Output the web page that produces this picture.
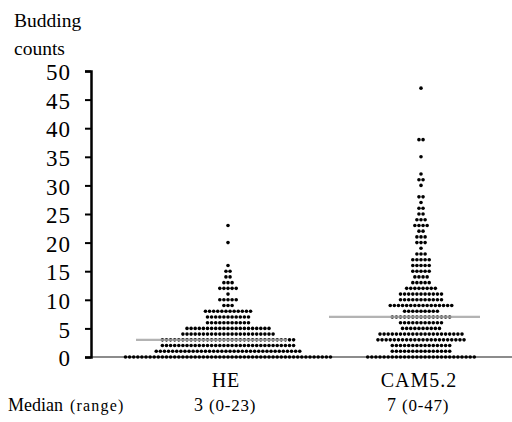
<!DOCTYPE html>
<html lang="en">
  <head>
    <meta charset="UTF-8" />
    <title>Budding counts</title>
    <script src="https://d3js.org/d3.v7.min.js"></script>
    <style>
      body {
        margin: 0;
        background: #ffffff;
      }
      svg text {
        font-family: 'Liberation Serif', 'Times New Roman', serif;
        fill: #000;
      }
    </style>
  </head>
  <body>
    <div id="chart"></div>
    <script>
      // groups and summary text
      const groups = ['HE', 'CAM5.2'];
      const medians = [3, 7];
      const ranges = ['(0-23)', '(0-47)'];
      const yTicks = [0, 5, 10, 15, 20, 25, 30, 35, 40, 45, 50];

      // number of cases at each budding count
      const heValues = [0, 1, 2, 3, 4, 5, 6, 7, 8, 9, 10, 11, 12, 13, 14, 15, 16, 20, 23];
      const heCounts = [51, 36, 33, 33, 23, 21, 11, 11, 12, 3, 5, 1, 5, 3, 2, 2, 1, 1, 1];
      const camValues = [0, 1, 2, 3, 4, 5, 6, 7, 8, 9, 10, 11, 12, 13, 14, 15, 16, 17, 18, 19,
        20, 21, 22, 23, 24, 25, 26, 27, 28, 30, 31, 32, 35, 38, 47];
      const camCounts = [27, 15, 15, 22, 21, 10, 11, 15, 9, 16, 11, 11, 8, 5, 4, 5, 5, 5, 3, 1,
        3, 3, 2, 4, 3, 2, 2, 1, 2, 1, 2, 1, 1, 2, 1];

      const w = 512,
        h = 422;
      const m = { left: 91, right: 0, top: 71, bottom: 65 };
      const pitch = 4.1;

      const svg = d3
        .select('#chart')
        .append('svg')
        .attr('width', w)
        .attr('height', h);

      const y = d3
        .scaleLinear()
        .domain([0, 50])
        .range([h - m.bottom, m.top]);

      const x = d3
        .scalePoint()
        .domain(groups)
        .range([228, 421]);

      // expand counts into dots
      function rows(values, counts, group) {
        const pts = [];
        values.forEach((v, i) => {
          const n = counts[i];
          for (let k = 0; k < n; k++) {
            pts.push({ group, v, off: (k - (n - 1) / 2) * pitch });
          }
        });
        return pts;
      }
      const dots = rows(heValues, heCounts, 'HE').concat(
        rows(camValues, camCounts, 'CAM5.2'),
      );

      // x axis line
      svg
        .append('line')
        .attr('x1', m.left)
        .attr('x2', w)
        .attr('y1', y(0))
        .attr('y2', y(0))
        .attr('stroke', '#8c8c8c')
        .attr('stroke-width', 2);

      svg
        .append('g')
        .selectAll('circle')
        .data(dots)
        .join('circle')
        .attr('cx', (d) => x(d.group) + d.off)
        .attr('cy', (d) => y(d.v))
        .attr('r', 1.8)
        .attr('fill', '#000');

      // median lines
      svg
        .append('g')
        .selectAll('line')
        .data(groups)
        .join('line')
        .attr('x1', (d) => x(d) - 92)
        .attr('x2', (d) => x(d) + 59)
        .attr('y1', (d, i) => y(medians[i]))
        .attr('y2', (d, i) => y(medians[i]))
        .attr('stroke', '#a6a6a6')
        .attr('stroke-opacity', 0.85)
        .attr('stroke-width', 2.2);

      // y axis
      const yAxis = svg
        .append('g')
        .attr('transform', `translate(${m.left},0)`)
        .call(
          d3
            .axisLeft(y)
            .tickValues(yTicks)
            .tickSize(6)
            .tickPadding(14),
        );
      yAxis.select('.domain').attr('stroke', '#000').attr('stroke-width', 2.5);
      yAxis.selectAll('.tick line').attr('stroke', '#000').attr('stroke-width', 2);
      yAxis
        .selectAll('.tick text')
        .attr('dy', '0.38em')
        .style('font-size', '23px')
        .style('letter-spacing', '1px');

      // y title
      svg
        .append('text')
        .attr('x', 14)
        .attr('y', 27)
        .style('font-size', '19.5px')
        .text('Budding');
      svg
        .append('text')
        .attr('x', 14)
        .attr('y', 55)
        .style('font-size', '19.5px')
        .text('counts');

      // category labels
      svg
        .append('g')
        .selectAll('text')
        .data(groups)
        .join('text')
        .attr('x', (d) => x(d) - 2)
        .attr('y', 387)
        .attr('text-anchor', 'middle')
        .style('font-size', '20px')
        .style('letter-spacing', '1px')
        .text((d) => d);

      // median (range) row
      svg
        .append('text')
        .attr('x', 8)
        .attr('y', 411)
        .style('font-size', '18px')
        .text('Median');
      svg
        .append('text')
        .attr('x', 70)
        .attr('y', 411)
        .style('font-size', '16px')
        .style('letter-spacing', '1.2px')
        .text('(range)');

      groups.forEach((g, i) => {
        svg
          .append('text')
          .attr('x', x(g) - 34)
          .attr('y', 411)
          .style('font-size', '18px')
          .text(medians[i]);
        svg
          .append('text')
          .attr('x', x(g) - 19)
          .attr('y', 411)
          .style('font-size', '17px')
          .style('letter-spacing', '0.8px')
          .text(ranges[i]);
      });
    </script>
  </body>
</html>
